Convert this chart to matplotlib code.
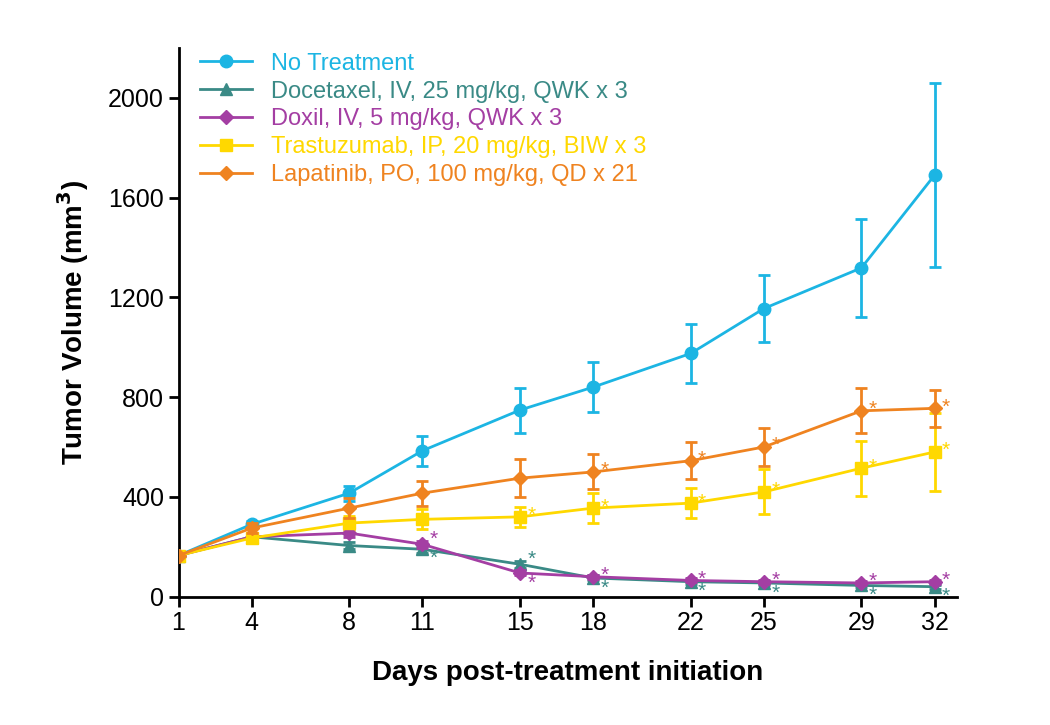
import numpy as np
import matplotlib.pyplot as plt
from matplotlib.lines import Line2D

plt.rcParams['font.family'] = ['Liberation Sans', 'DejaVu Sans']

days = [1, 4, 8, 11, 15, 18, 22, 25, 29, 32]
labels = ['No Treatment', 'Docetaxel, IV, 25 mg/kg, QWK x 3', 'Doxil, IV, 5 mg/kg, QWK x 3',
          'Trastuzumab, IP, 20 mg/kg, BIW x 3', 'Lapatinib, PO, 100 mg/kg, QD x 21']
no_treat = [165, 290, 415, 585, 748, 840, 975, 1155, 1318, 1690]
no_treat_err = [0, 15, 30, 60, 90, 100, 120, 135, 195, 370]
docetaxel = [165, 240, 205, 190, 130, 75, 60, 55, 45, 40]
docetaxel_err = [0, 10, 15, 15, 15, 10, 8, 8, 8, 8]
doxil = [165, 240, 255, 210, 95, 80, 65, 60, 55, 60]
doxil_err = [0, 10, 15, 15, 10, 8, 8, 8, 8, 8]
trastu = [165, 235, 295, 310, 320, 355, 375, 420, 515, 580]
trastu_err = [0, 15, 30, 40, 40, 60, 60, 90, 110, 155]
lapat = [165, 275, 355, 415, 475, 500, 545, 600, 745, 755]
lapat_err = [0, 20, 40, 50, 75, 70, 75, 75, 90, 75]

series = [no_treat, docetaxel, doxil, trastu, lapat]
errs = [no_treat_err, docetaxel_err, doxil_err, trastu_err, lapat_err]
colors = ['#1cb5e3', '#3a8a86', '#a43ea3', '#ffd800', '#ef8320']
markers = ['o', '^', 'D', 's', 'D']
sizes = [9, 9, 7, 8, 7]

# asterisk positions: (series index, day index, vertical offset)
stars = [(1, 3, -35), (1, 4, 20), (1, 5, -40), (1, 6, -40), (1, 7, -40), (1, 8, -40), (1, 9, -40),
         (2, 3, 20), (2, 4, -40), (2, 5, 5), (2, 6, 5), (2, 7, 5), (2, 8, 5), (2, 9, 5),
         (3, 4, 5), (3, 5, 5), (3, 6, 5), (3, 7, 5), (3, 8, 5), (3, 9, 5),
         (4, 5, 5), (4, 6, 5), (4, 7, 5), (4, 8, 5), (4, 9, 5)]

fig = plt.figure(figsize=(10.5, 7.25), dpi=100)
ax = fig.add_axes([0.17, 0.177, 0.741, 0.757])
handles = []
for i in range(5):
    ax.errorbar(days, series[i], yerr=errs[i], color=colors[i], marker=markers[i], ms=sizes[i],
                lw=2, elinewidth=2, capsize=4, capthick=2, zorder=3 + i * 0.1)
    handles.append(Line2D([], [], color=colors[i], marker=markers[i], ms=sizes[i], lw=2))
for s, d, off in stars:
    ax.text(days[d] + 0.3, series[s][d] + off, '*', color=colors[s], fontsize=15,
            ha='left', va='center')

ax.set_xlim(1, 32.9)
ax.set_ylim(0, 2200)
ax.set_xticks(days)
ax.set_yticks([0, 400, 800, 1200, 1600, 2000])
ax.tick_params(labelsize=18, width=2, length=7)
ax.spines['top'].set_visible(False)
ax.spines['right'].set_visible(False)
ax.spines['left'].set_linewidth(2)
ax.spines['bottom'].set_linewidth(2)
ax.set_xlabel('Days post-treatment initiation', fontsize=20, fontweight='bold', labelpad=18)
ax.set_ylabel('Tumor Volume (mm$^\\mathbf{3}$)', fontsize=20, fontweight='bold', labelpad=12)
leg = ax.legend(handles, labels, loc='upper left', bbox_to_anchor=(0.0, 1.03), frameon=False,
                fontsize=17, handlelength=2.2, labelspacing=0.25)
for t, c in zip(leg.get_texts(), colors):
    t.set_color(c)
fig.savefig('out.png')
